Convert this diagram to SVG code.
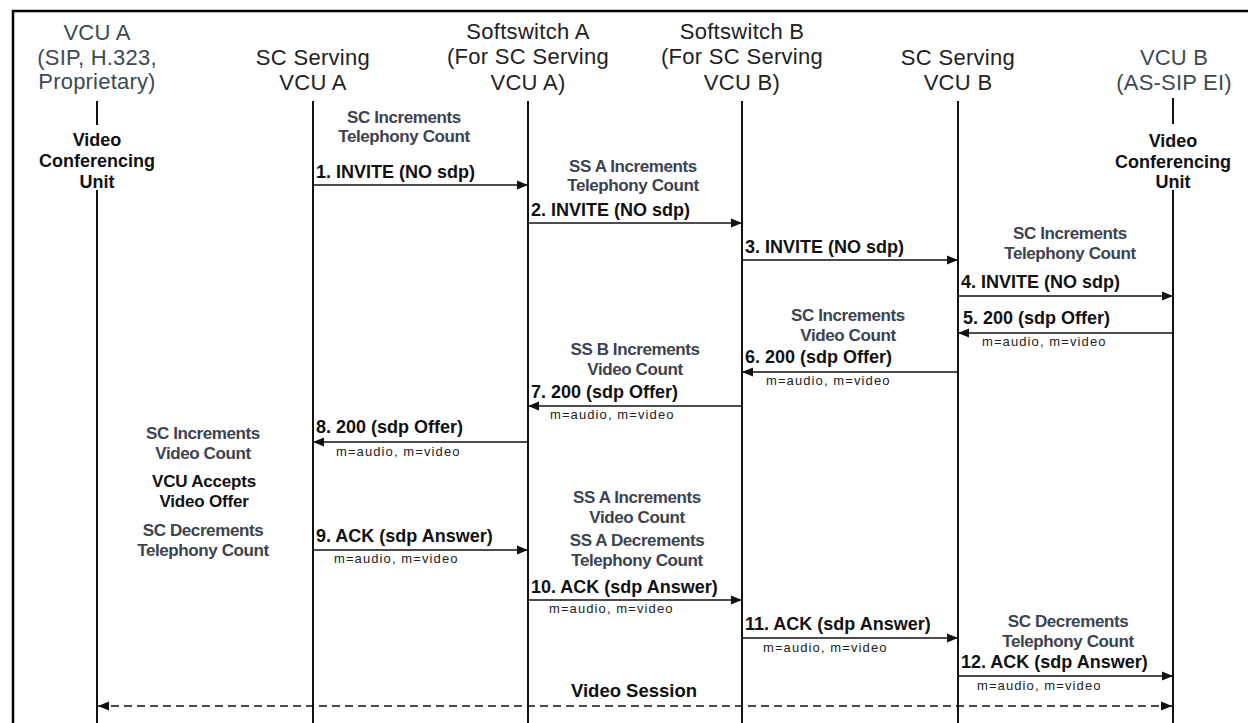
<svg xmlns="http://www.w3.org/2000/svg" width="1248" height="723" viewBox="0 0 1248 723">
<style>
.hd{font-family:"Liberation Sans",Arial,sans-serif;font-size:22px;fill:#222;text-anchor:middle;letter-spacing:0.3px}
.hdv{font-family:"Liberation Sans",Arial,sans-serif;font-size:22px;fill:#3e4954;text-anchor:middle;letter-spacing:0.2px}
.unit{font-family:"Liberation Sans",Arial,sans-serif;font-size:18px;font-weight:bold;fill:#111;text-anchor:middle}
.note{font-family:"Liberation Sans",Arial,sans-serif;font-size:17px;font-weight:bold;fill:#3b4350;text-anchor:middle;letter-spacing:-0.4px}
.bnote{font-family:"Liberation Sans",Arial,sans-serif;font-size:17px;font-weight:bold;fill:#111;text-anchor:middle;letter-spacing:-0.2px}
.vs{font-family:"Liberation Sans",Arial,sans-serif;font-size:18.5px;font-weight:bold;fill:#111;text-anchor:middle}
.msg{font-family:"Liberation Sans",Arial,sans-serif;font-size:18px;font-weight:bold;fill:#111}
.sdp{font-family:"Liberation Sans",Arial,sans-serif;font-size:13px;fill:#222;letter-spacing:1.1px}
.life{stroke:#111;stroke-width:2;fill:none}
.arr{stroke:#111;stroke-width:1.6;fill:none}
</style>
<defs>
<marker id="ah" markerUnits="userSpaceOnUse" markerWidth="12" markerHeight="10" refX="11" refY="5" orient="auto">
<path d="M0,0.5 L11,5 L0,9.5 Z" fill="#111"/>
</marker>
<marker id="ahs" markerUnits="userSpaceOnUse" markerWidth="12" markerHeight="10" refX="11" refY="5" orient="auto-start-reverse">
<path d="M0,0.5 L11,5 L0,9.5 Z" fill="#111"/>
</marker>
</defs>
<rect width="1248" height="723" fill="#fff"/>
<path d="M13,723 V11 H1248" stroke="#000" stroke-width="2.5" fill="none"/>

<g id="vcuA">
<text class="hdv" x="97" y="40">VCU A</text>
<text class="hdv" x="97" y="65">(SIP, H.323,</text>
<text class="hdv" x="97" y="89">Proprietary)</text>
<line class="life" x1="97" y1="101" x2="97" y2="125"/>
<text class="unit" x="97" y="146">Video</text>
<text class="unit" x="97" y="167">Conferencing</text>
<text class="unit" x="97" y="188">Unit</text>
<line class="life" x1="97" y1="190" x2="97" y2="723"/>
</g>
<g id="scA">
<text class="hd" x="313" y="65">SC Serving</text>
<text class="hd" x="313" y="90">VCU A</text>
<line class="life" x1="313" y1="101" x2="313" y2="723"/>
</g>
<g id="ssA">
<text class="hd" x="528" y="39">Softswitch A</text>
<text class="hd" x="528" y="64">(For SC Serving</text>
<text class="hd" x="528" y="90">VCU A)</text>
<line class="life" x1="528" y1="101" x2="528" y2="723"/>
</g>
<g id="ssB">
<text class="hd" x="742" y="39">Softswitch B</text>
<text class="hd" x="742" y="64">(For SC Serving</text>
<text class="hd" x="742" y="90">VCU B)</text>
<line class="life" x1="742" y1="101" x2="742" y2="723"/>
</g>
<g id="scB">
<text class="hd" x="958" y="65">SC Serving</text>
<text class="hd" x="958" y="90">VCU B</text>
<line class="life" x1="958" y1="101" x2="958" y2="723"/>
</g>
<g id="vcuB">
<text class="hdv" x="1174" y="65">VCU B</text>
<text class="hdv" x="1174" y="90">(AS-SIP EI)</text>
<line class="life" x1="1173" y1="98" x2="1173" y2="124"/>
<text class="unit" x="1173" y="147">Video</text>
<text class="unit" x="1173" y="168">Conferencing</text>
<text class="unit" x="1173" y="188">Unit</text>
<line class="life" x1="1173" y1="190" x2="1173" y2="723"/>
</g>

<g id="notes">
<text class="note" x="404" y="123">SC Increments</text>
<text class="note" x="404" y="142">Telephony Count</text>
<text class="note" x="633" y="172">SS A Increments</text>
<text class="note" x="633" y="191">Telephony Count</text>
<text class="note" x="1070" y="239">SC Increments</text>
<text class="note" x="1070" y="259">Telephony Count</text>
<text class="note" x="848" y="321">SC Increments</text>
<text class="note" x="848" y="341">Video Count</text>
<text class="note" x="635" y="355">SS B Increments</text>
<text class="note" x="635" y="375">Video Count</text>
<text class="note" x="203" y="439">SC Increments</text>
<text class="note" x="203" y="459">Video Count</text>
<text class="bnote" x="204" y="487">VCU Accepts</text>
<text class="bnote" x="204" y="507">Video Offer</text>
<text class="note" x="203" y="536">SC Decrements</text>
<text class="note" x="203" y="556">Telephony Count</text>
<text class="note" x="637" y="503">SS A Increments</text>
<text class="note" x="637" y="523">Video Count</text>
<text class="note" x="637" y="546">SS A Decrements</text>
<text class="note" x="637" y="566">Telephony Count</text>
<text class="note" x="1068" y="627">SC Decrements</text>
<text class="note" x="1068" y="647">Telephony Count</text>
</g>

<g id="connectors">
<line class="arr" x1="313" y1="185" x2="528" y2="185" marker-end="url(#ah)"/>
<text class="msg" x="316" y="178">1. INVITE (NO sdp)</text>
<line class="arr" x1="528" y1="223" x2="742" y2="223" marker-end="url(#ah)"/>
<text class="msg" x="531" y="216">2. INVITE (NO sdp)</text>
<line class="arr" x1="742" y1="260" x2="958" y2="260" marker-end="url(#ah)"/>
<text class="msg" x="745" y="253">3. INVITE (NO sdp)</text>
<line class="arr" x1="958" y1="296" x2="1173" y2="296" marker-end="url(#ah)"/>
<text class="msg" x="961" y="288">4. INVITE (NO sdp)</text>
<line class="arr" x1="1173" y1="333" x2="958" y2="333" marker-end="url(#ah)"/>
<text class="msg" x="963" y="324">5. 200 (sdp Offer)</text>
<text class="sdp" x="982" y="346">m=audio, m=video</text>
<line class="arr" x1="958" y1="372" x2="742" y2="372" marker-end="url(#ah)"/>
<text class="msg" x="745" y="363">6. 200 (sdp Offer)</text>
<text class="sdp" x="766" y="385">m=audio, m=video</text>
<line class="arr" x1="742" y1="406" x2="528" y2="406" marker-end="url(#ah)"/>
<text class="msg" x="531" y="398">7. 200 (sdp Offer)</text>
<text class="sdp" x="550" y="419">m=audio, m=video</text>
<line class="arr" x1="528" y1="442" x2="313" y2="442" marker-end="url(#ah)"/>
<text class="msg" x="316" y="433">8. 200 (sdp Offer)</text>
<text class="sdp" x="336" y="456">m=audio, m=video</text>
<line class="arr" x1="313" y1="550" x2="528" y2="550" marker-end="url(#ah)"/>
<text class="msg" x="316" y="542">9. ACK (sdp Answer)</text>
<text class="sdp" x="334" y="563">m=audio, m=video</text>
<line class="arr" x1="528" y1="600" x2="742" y2="600" marker-end="url(#ah)"/>
<text class="msg" x="531" y="593">10. ACK (sdp Answer)</text>
<text class="sdp" x="549" y="613">m=audio, m=video</text>
<line class="arr" x1="742" y1="638" x2="958" y2="638" marker-end="url(#ah)"/>
<text class="msg" x="745" y="630">11. ACK (sdp Answer)</text>
<text class="sdp" x="763" y="652">m=audio, m=video</text>
<line class="arr" x1="958" y1="676" x2="1173" y2="676" marker-end="url(#ah)"/>
<text class="msg" x="961" y="668">12. ACK (sdp Answer)</text>
<text class="sdp" x="977" y="690">m=audio, m=video</text>
<line class="arr" x1="98" y1="706" x2="1172" y2="706" stroke-dasharray="8,5" marker-start="url(#ahs)" marker-end="url(#ahs)"/>
<text class="vs" x="634" y="697">Video Session</text>
</g>
</svg>
